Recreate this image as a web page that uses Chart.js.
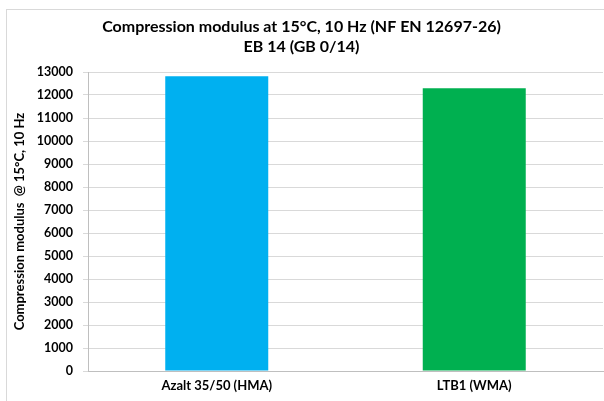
<!DOCTYPE html>
<html>
<head>
<meta charset="utf-8">
<script src="https://cdn.jsdelivr.net/npm/chart.js@4"></script>
<style>
  html, body { margin: 0; padding: 0; background: #fff; }
  #wrap { width: 604px; height: 401px; position: relative; }
</style>
</head>
<body>
<div id="wrap"><canvas id="myChart" width="604" height="401"></canvas></div>
<script>
const titleLines = ["Compression modulus at 15°C, 10 Hz (NF EN 12697-26)", "EB 14 (GB 0/14)"];
const categories = ["Azalt 35/50 (HMA)", "LTB1 (WMA)"];
const modulusValues = [12810, 12290];
const yAxisTitle = "Compression modulus  @ 15°C, 10 Hz";
const yMin = 0;
const yMax = 13000;
const yStep = 1000;

const fontFamily = "Lato, 'Open Sans', sans-serif";

// marco gris alrededor del grafico
const frameBorder = {
  id: "frameBorder",
  beforeDraw(chart) {
    const ctx = chart.ctx;
    ctx.save();
    ctx.fillStyle = "#fff";
    ctx.fillRect(0, 0, chart.width, chart.height);
    ctx.strokeStyle = "#d9d9d9";
    ctx.lineWidth = 1;
    ctx.strokeRect(6.5, 9.5, 800, 600);
    ctx.restore();
  }
};

const config = {
  type: "bar",
  data: {
    labels: categories,
    datasets: [
      {
        data: modulusValues,
        backgroundColor: ["#00b0f0", "#00b050"],
        borderWidth: 0,
        barPercentage: 0.4,
        categoryPercentage: 1.0,
      },
    ],
  },
  options: {
    responsive: false,
    animation: false,
    layout: { padding: { left: 0, right: 1, top: 0, bottom: 0 } },
    plugins: {
      legend: { display: false },
      tooltip: { enabled: false },
      title: {
        display: true,
        text: titleLines,
        color: "#000",
        font: { family: fontFamily, size: 16, weight: "bold", lineHeight: 1.25 },
        padding: { top: 17, bottom: 15 },
      },
    },
    scales: {
      x: {
        grid: { display: true, drawOnChartArea: false, drawTicks: false },
        border: { display: true, color: "#bfbfbf", width: 1 },
        ticks: {
          color: "#000",
          font: { family: fontFamily, size: 13, weight: "bold" },
          padding: 7,
        },
        afterFit(scale) { scale.height = 30; },
      },
      y: {
        min: yMin,
        max: yMax,
        ticks: {
          stepSize: yStep,
          color: "#000",
          font: { family: fontFamily, size: 12.5, weight: "bold" },
          padding: 10,
          callback: (value) => String(value),
        },
        grid: { color: "#d9d9d9", lineWidth: 1, tickLength: 5 },
        border: { display: true, color: "#bfbfbf", width: 1 },
        title: {
          display: true,
          text: yAxisTitle,
          color: "#000",
          font: { family: fontFamily, size: 13, weight: "bold" },
          padding: { top: 12, bottom: 0 },
        },
        afterFit(scale) { scale.width = 88; },
      },
    },
  },
  plugins: [frameBorder],
};

const myChart = new Chart(document.getElementById("myChart"), config);
</script>
</body>
</html>
